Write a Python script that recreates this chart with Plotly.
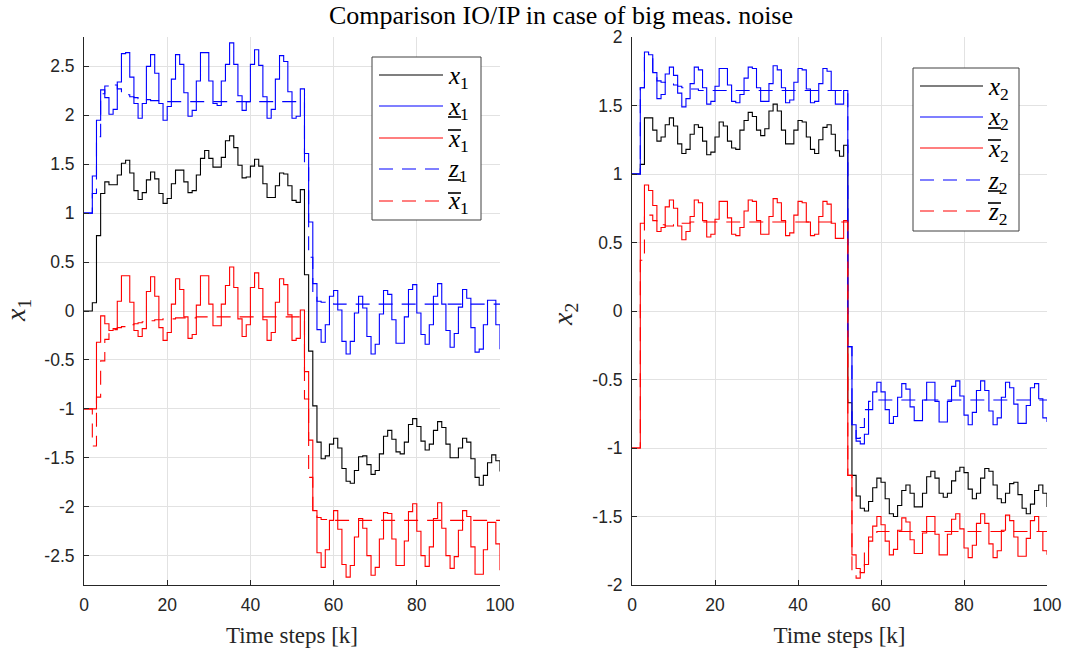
import plotly.graph_objects as go

# =============================================================================
# Data (k = 0..100)
# =============================================================================
k = list(range(101))

# left panel, x1
x1 = [0.00, 0.00, 0.085, 0.77, 1.20, 1.32, 1.29, 1.29, 1.39, 1.51,
      1.54, 1.41, 1.23, 1.14, 1.21, 1.34, 1.42, 1.35, 1.20, 1.10,
      1.15, 1.30, 1.44, 1.44, 1.32, 1.21, 1.23, 1.39, 1.56, 1.64,
      1.56, 1.47, 1.47, 1.57, 1.74, 1.79, 1.67, 1.49, 1.36, 1.37,
      1.48, 1.55, 1.48, 1.30, 1.16, 1.16, 1.28, 1.41, 1.40, 1.28,
      1.13, 1.11, 1.24, 0.37, -0.41, -0.97, -1.34, -1.51, -1.48, -1.36,
      -1.30, -1.40, -1.61, -1.74, -1.76, -1.63, -1.49, -1.48, -1.57, -1.67,
      -1.63, -1.46, -1.28, -1.22, -1.31, -1.44, -1.46, -1.34, -1.16, -1.10,
      -1.18, -1.33, -1.42, -1.36, -1.22, -1.13, -1.19, -1.36, -1.50, -1.50,
      -1.40, -1.30, -1.34, -1.51, -1.70, -1.78, -1.68, -1.55, -1.47, -1.53,
      -1.64]

x1_low = [1.00, 1.00, 1.38, 1.95, 2.26, 2.18, 2.01, 2.06, 2.34, 2.63,
          2.64, 2.39, 2.12, 1.97, 2.12, 2.50, 2.62, 2.43, 2.12, 1.95,
          2.09, 2.37, 2.62, 2.52, 2.23, 1.99, 2.05, 2.35, 2.64, 2.64,
          2.35, 2.12, 2.10, 2.35, 2.52, 2.74, 2.52, 2.20, 2.05, 2.14,
          2.52, 2.67, 2.51, 2.19, 1.97, 2.06, 2.37, 2.61, 2.55, 2.24,
          1.97, 1.99, 2.27, 1.61, 0.91, 0.28, -0.19, -0.32, -0.14, 0.15,
          0.21, 0.01, -0.31, -0.44, -0.31, -0.02, 0.15, 0.03, -0.26, -0.44,
          -0.34, -0.03, 0.21, 0.17, -0.09, -0.33, -0.33, -0.06, 0.22, 0.27,
          -0.02, -0.24, -0.34, -0.14, 0.15, 0.28, 0.07, -0.20, -0.37, -0.23,
          0.04, 0.22, 0.13, -0.17, -0.42, -0.39, -0.14, 0.11, 0.11, -0.14,
          -0.39]

x1_up = [-1.00, -1.00, -1.00, -0.32, -0.05, -0.13, -0.20, -0.18, 0.10, 0.36,
         0.36, 0.09, -0.20, -0.26, -0.18, 0.20, 0.35, 0.15, -0.17, -0.30,
         -0.22, 0.07, 0.33, 0.22, -0.06, -0.28, -0.24, 0.06, 0.36, 0.36,
         0.07, -0.15, -0.15, 0.07, 0.26, 0.45, 0.24, -0.08, -0.26, -0.14,
         0.24, 0.39, 0.23, -0.09, -0.30, -0.22, 0.09, 0.33, 0.27, -0.04,
         -0.30, -0.28, 0.01, -0.62, -1.32, -2.04, -2.47, -2.62, -2.44, -2.14,
         -2.04, -2.23, -2.59, -2.72, -2.60, -2.31, -2.12, -2.22, -2.50, -2.70,
         -2.62, -2.33, -2.06, -2.07, -2.33, -2.60, -2.60, -2.35, -2.05, -1.97,
         -2.25, -2.50, -2.61, -2.41, -2.12, -1.96, -2.22, -2.50, -2.63, -2.51,
         -2.24, -2.04, -2.10, -2.41, -2.69, -2.69, -2.44, -2.16, -2.16, -2.38,
         -2.65]

z1_low = [1.00, 1.00, 1.20, 1.78, 2.22, 2.30, 2.32, 2.31, 2.27, 2.23,
          2.21, 2.19, 2.18, 2.17, 2.17, 2.16, 2.15, 2.15, 2.15, 2.15,
          2.14, 2.14, 2.14, 2.14, 2.14, 2.14, 2.14, 2.14, 2.14, 2.14,
          2.14, 2.14, 2.14, 2.14, 2.14, 2.14, 2.14, 2.14, 2.14, 2.14,
          2.14, 2.14, 2.14, 2.14, 2.14, 2.14, 2.14, 2.14, 2.14, 2.14,
          2.14, 2.14, 2.14, 1.50, 0.55, 0.16, 0.10, 0.09, 0.08, 0.08,
          0.07, 0.07, 0.07, 0.07, 0.07, 0.07, 0.07, 0.07, 0.07, 0.07,
          0.07, 0.07, 0.07, 0.07, 0.07, 0.07, 0.07, 0.07, 0.07, 0.07,
          0.07, 0.07, 0.07, 0.07, 0.07, 0.07, 0.07, 0.07, 0.07, 0.07,
          0.07, 0.07, 0.07, 0.07, 0.07, 0.07, 0.07, 0.07, 0.07, 0.07,
          0.07]

z1_up = [-1.00, -1.00, -1.38, -0.88, -0.51, -0.29, -0.22, -0.19, -0.17, -0.16,
         -0.15, -0.14, -0.13, -0.12, -0.11, -0.10, -0.10, -0.09, -0.09, -0.08,
         -0.08, -0.08, -0.07, -0.07, -0.07, -0.07, -0.07, -0.06, -0.06, -0.06,
         -0.06, -0.06, -0.06, -0.06, -0.06, -0.06, -0.06, -0.06, -0.06, -0.06,
         -0.06, -0.06, -0.06, -0.06, -0.06, -0.06, -0.06, -0.06, -0.06, -0.06,
         -0.06, -0.06, -0.06, -0.90, -1.70, -2.05, -2.11, -2.13, -2.13, -2.14,
         -2.14, -2.14, -2.14, -2.14, -2.14, -2.14, -2.14, -2.14, -2.14, -2.14,
         -2.14, -2.14, -2.14, -2.14, -2.14, -2.14, -2.14, -2.14, -2.14, -2.14,
         -2.14, -2.14, -2.14, -2.14, -2.14, -2.14, -2.14, -2.14, -2.14, -2.14,
         -2.14, -2.14, -2.14, -2.14, -2.14, -2.14, -2.14, -2.14, -2.14, -2.14,
         -2.14]

# right panel, x2
x2 = [1.00, 1.00, 1.07, 1.41, 1.41, 1.32, 1.24, 1.27, 1.36, 1.41,
      1.35, 1.22, 1.15, 1.18, 1.29, 1.36, 1.34, 1.24, 1.14, 1.16,
      1.27, 1.38, 1.35, 1.24, 1.19, 1.18, 1.32, 1.39, 1.45, 1.42,
      1.32, 1.28, 1.33, 1.46, 1.51, 1.46, 1.32, 1.22, 1.22, 1.32,
      1.39, 1.38, 1.27, 1.18, 1.15, 1.25, 1.34, 1.36, 1.29, 1.17,
      1.13, 1.21, -0.67, -1.20, -1.35, -1.44, -1.46, -1.39, -1.29, -1.22,
      -1.25, -1.37, -1.48, -1.50, -1.42, -1.31, -1.27, -1.33, -1.43, -1.43,
      -1.33, -1.21, -1.17, -1.22, -1.33, -1.36, -1.33, -1.24, -1.17, -1.14,
      -1.18, -1.30, -1.37, -1.33, -1.22, -1.15, -1.17, -1.27, -1.37, -1.40,
      -1.33, -1.26, -1.25, -1.34, -1.44, -1.48, -1.41, -1.31, -1.27, -1.33,
      -1.43]

x2_low = [1.00, 1.00, 1.63, 1.89, 1.87, 1.74, 1.55, 1.58, 1.73, 1.78,
          1.72, 1.59, 1.49, 1.55, 1.66, 1.78, 1.76, 1.63, 1.51, 1.53,
          1.64, 1.77, 1.77, 1.65, 1.53, 1.52, 1.58, 1.70, 1.78, 1.77,
          1.63, 1.53, 1.53, 1.66, 1.79, 1.76, 1.63, 1.52, 1.54, 1.67,
          1.77, 1.76, 1.62, 1.52, 1.53, 1.66, 1.77, 1.75, 1.61, 1.51,
          1.51, 1.61, -0.26, -0.83, -0.95, -0.97, -0.90, -0.72, -0.59, -0.52,
          -0.59, -0.72, -0.82, -0.77, -0.63, -0.53, -0.57, -0.70, -0.80, -0.80,
          -0.65, -0.52, -0.52, -0.66, -0.81, -0.81, -0.66, -0.55, -0.51, -0.62,
          -0.76, -0.83, -0.74, -0.58, -0.51, -0.58, -0.73, -0.83, -0.78, -0.63,
          -0.52, -0.56, -0.68, -0.82, -0.82, -0.69, -0.56, -0.53, -0.64, -0.78,
          -0.81]

x2_up = [-1.00, -1.00, 0.64, 0.92, 0.88, 0.77, 0.58, 0.61, 0.76, 0.81,
         0.75, 0.62, 0.52, 0.58, 0.69, 0.81, 0.79, 0.66, 0.54, 0.56,
         0.67, 0.80, 0.80, 0.68, 0.56, 0.55, 0.61, 0.73, 0.81, 0.80,
         0.66, 0.56, 0.56, 0.69, 0.82, 0.79, 0.66, 0.55, 0.57, 0.70,
         0.80, 0.79, 0.65, 0.55, 0.56, 0.69, 0.80, 0.78, 0.64, 0.53,
         0.53, 0.66, -1.20, -1.78, -1.88, -1.91, -1.85, -1.68, -1.57, -1.50,
         -1.56, -1.68, -1.78, -1.74, -1.60, -1.51, -1.54, -1.67, -1.77, -1.77,
         -1.62, -1.50, -1.50, -1.63, -1.78, -1.78, -1.63, -1.52, -1.48, -1.59,
         -1.73, -1.80, -1.71, -1.55, -1.48, -1.55, -1.70, -1.80, -1.75, -1.60,
         -1.49, -1.53, -1.65, -1.79, -1.79, -1.66, -1.53, -1.50, -1.61, -1.75,
         -1.78]

z2_low = [1.00, 1.00, 1.63, 1.85, 1.84, 1.72, 1.68, 1.67, 1.66, 1.66,
          1.65, 1.64, 1.63, 1.63, 1.62, 1.62, 1.61, 1.61, 1.61, 1.61,
          1.61, 1.61, 1.61, 1.61, 1.61, 1.61, 1.61, 1.61, 1.61, 1.61,
          1.61, 1.61, 1.61, 1.61, 1.61, 1.61, 1.61, 1.61, 1.61, 1.61,
          1.61, 1.61, 1.61, 1.61, 1.61, 1.61, 1.61, 1.61, 1.61, 1.61,
          1.61, 1.61, -0.26, -0.84, -0.93, -0.85, -0.72, -0.66, -0.65, -0.65,
          -0.65, -0.65, -0.65, -0.65, -0.65, -0.65, -0.65, -0.65, -0.65, -0.65,
          -0.65, -0.65, -0.65, -0.65, -0.65, -0.65, -0.65, -0.65, -0.65, -0.65,
          -0.65, -0.65, -0.65, -0.65, -0.65, -0.65, -0.65, -0.65, -0.65, -0.65,
          -0.65, -0.65, -0.65, -0.65, -0.65, -0.65, -0.65, -0.65, -0.65, -0.65,
          -0.65]

z2_up = [-1.00, -1.00, 0.37, 0.71, 0.70, 0.66, 0.65, 0.63, 0.62, 0.62,
         0.63, 0.64, 0.64, 0.64, 0.65, 0.65, 0.65, 0.65, 0.65, 0.65,
         0.65, 0.65, 0.65, 0.65, 0.65, 0.65, 0.65, 0.65, 0.65, 0.65,
         0.65, 0.65, 0.65, 0.65, 0.65, 0.65, 0.65, 0.65, 0.65, 0.65,
         0.65, 0.65, 0.65, 0.65, 0.65, 0.65, 0.65, 0.65, 0.65, 0.65,
         0.65, 0.65, -1.20, -1.90, -1.95, -1.87, -1.74, -1.65, -1.62, -1.61,
         -1.61, -1.61, -1.61, -1.61, -1.61, -1.61, -1.61, -1.61, -1.61, -1.61,
         -1.61, -1.61, -1.61, -1.61, -1.61, -1.61, -1.61, -1.61, -1.61, -1.61,
         -1.61, -1.61, -1.61, -1.61, -1.61, -1.61, -1.61, -1.61, -1.61, -1.61,
         -1.61, -1.61, -1.61, -1.61, -1.61, -1.61, -1.61, -1.61, -1.61, -1.61,
         -1.61]

# ticks
x_ticks = [0, 20, 40, 60, 80, 100]
x_ticktext = ["0", "20", "40", "60", "80", "100"]
y1_ticks = [-2.5, -2, -1.5, -1, -0.5, 0, 0.5, 1, 1.5, 2, 2.5]
y1_ticktext = ["-2.5", "-2", "-1.5", "-1", "-0.5", "0", "0.5", "1", "1.5", "2", "2.5"]
y2_ticks = [-2, -1.5, -1, -0.5, 0, 0.5, 1, 1.5, 2]
y2_ticktext = ["-2", "-1.5", "-1", "-0.5", "0", "0.5", "1", "1.5", "2"]

# legend entries: (symbol, index, bar over/under the symbol)
legend_1 = [("x", 1, None), ("x", 1, "under"), ("x", 1, "over"),
            ("z", 1, "under"), ("x", 1, "over")]
legend_2 = [("x", 2, None), ("x", 2, "under"), ("x", 2, "over"),
            ("z", 2, "under"), ("z", 2, "over")]

# =============================================================================
# Style
# =============================================================================
W, H = 1073, 657
STYLES = [("#000000", "solid"), ("#0000ff", "solid"), ("#ff0000", "solid"),
          ("#0000ff", "14px,9px"), ("#ff0000", "14px,9px")]
AXC = "#262626"
GRID = "#e2e2e2"
SERIF = "Liberation Serif, Times New Roman, serif"
SANS = "Liberation Sans, Arial, sans-serif"


def px(x):
    # screen pixel -> paper fraction
    return x / W


def py(y):
    return 1 - y / H


def add_panel(fig, series, xa, ya):
    for ys, (color, dash) in zip(series, STYLES):
        fig.add_trace(go.Scatter(
            x=k, y=ys, xaxis=xa, yaxis=ya, mode="lines", line_shape="hv",
            line=dict(color=color, width=1.1, dash=dash),
            showlegend=False, hoverinfo="skip"))


def add_legend(fig, box, x0, x1_, rows, entries, tx):
    fig.add_shape(type="rect", xref="paper", yref="paper",
                  x0=px(box[0]), x1=px(box[2]), y0=py(box[1]), y1=py(box[3]),
                  line=dict(color="#404040", width=1), fillcolor="white",
                  layer="above")
    for yy, (color, dash), (sym, idx, bar) in zip(rows, STYLES, entries):
        fig.add_shape(type="line", xref="paper", yref="paper",
                      x0=px(x0), x1=px(x1_), y0=py(yy), y1=py(yy),
                      line=dict(color=color, width=1.1, dash=dash),
                      layer="above")
        fig.add_annotation(xref="paper", yref="paper", x=px(tx), y=py(yy + 2),
                           text="<i>%s</i><sub>%d</sub>" % (sym, idx),
                           showarrow=False, xanchor="left", yanchor="middle",
                           font=dict(family=SERIF, size=25, color="#000000"))
        if bar:
            by = yy - 8 if bar == "over" else yy + 11
            fig.add_shape(type="line", xref="paper", yref="paper",
                          x0=px(tx + 2), x1=px(tx + 15), y0=py(by), y1=py(by),
                          line=dict(color="#000000", width=1.6),
                          layer="above")


fig = go.Figure()
add_panel(fig, [x1, x1_low, x1_up, z1_low, z1_up], "x", "y")
add_panel(fig, [x2, x2_low, x2_up, z2_low, z2_up], "x2", "y2")

axis_common = dict(
    showline=True, linecolor=AXC, linewidth=1, mirror=False,
    ticks="inside", ticklen=5, tickcolor=AXC, tickwidth=1,
    showgrid=True, gridcolor=GRID, gridwidth=1, zeroline=False,
    tickfont=dict(family=SANS, size=17.5, color=AXC),
    fixedrange=True, automargin=False,
)

y_top, y_bot = 37, 585
fig.update_layout(
    width=W, height=H,
    margin=dict(l=0, r=0, t=0, b=0, autoexpand=False),
    paper_bgcolor="white", plot_bgcolor="white",
    showlegend=False,
    xaxis=dict(axis_common, domain=[px(84), px(500)], range=[0, 100],
               tickvals=x_ticks, ticktext=x_ticktext, anchor="y",
               ticklabelstandoff=4,
               title=dict(text="Time steps [k]", standoff=12,
                          font=dict(family=SERIF, size=23, color=AXC))),
    yaxis=dict(axis_common, domain=[py(y_bot), py(y_top)], range=[-2.8, 2.8],
               tickvals=y1_ticks, ticktext=y1_ticktext, anchor="x",
               ticklabelstandoff=5),
    xaxis2=dict(axis_common, domain=[px(632), px(1047)], range=[0, 100],
                tickvals=x_ticks, ticktext=x_ticktext, anchor="y2",
                ticklabelstandoff=4,
                title=dict(text="Time steps [k]", standoff=12,
                           font=dict(family=SERIF, size=23, color=AXC))),
    yaxis2=dict(axis_common, domain=[py(y_bot), py(y_top)], range=[-2, 2],
                tickvals=y2_ticks, ticktext=y2_ticktext, anchor="x2",
                ticklabelstandoff=5),
    title=dict(text="Comparison IO/IP in case of big meas. noise",
               x=px(561), xanchor="center", y=py(15), yanchor="middle",
               automargin=False,
               font=dict(family=SERIF, size=26, color="#000000")),
)

# y axis labels
fig.add_annotation(xref="paper", yref="paper", x=px(18), y=py(311),
                   xanchor="center", yanchor="middle",
                   text="<i>x</i><sub>1</sub>", showarrow=False, textangle=-90,
                   font=dict(family=SERIF, size=28, color=AXC))
fig.add_annotation(xref="paper", yref="paper", x=px(565), y=py(315),
                   xanchor="center", yanchor="middle",
                   text="<i>x</i><sub>2</sub>", showarrow=False, textangle=-90,
                   font=dict(family=SERIF, size=28, color=AXC))

# legends
add_legend(fig, (372, 57, 481, 220), 379, 443, [75, 106, 138, 169, 201],
           legend_1, 446)
add_legend(fig, (913, 68, 1019, 231), 920, 983, [86, 117, 148, 180, 211],
           legend_2, 986)

# the page's default 8px body margin would shift the figure off the window
fig.write_html("out.html", config=dict(displayModeBar=False),
               post_script="document.body.style.margin = '0';")
